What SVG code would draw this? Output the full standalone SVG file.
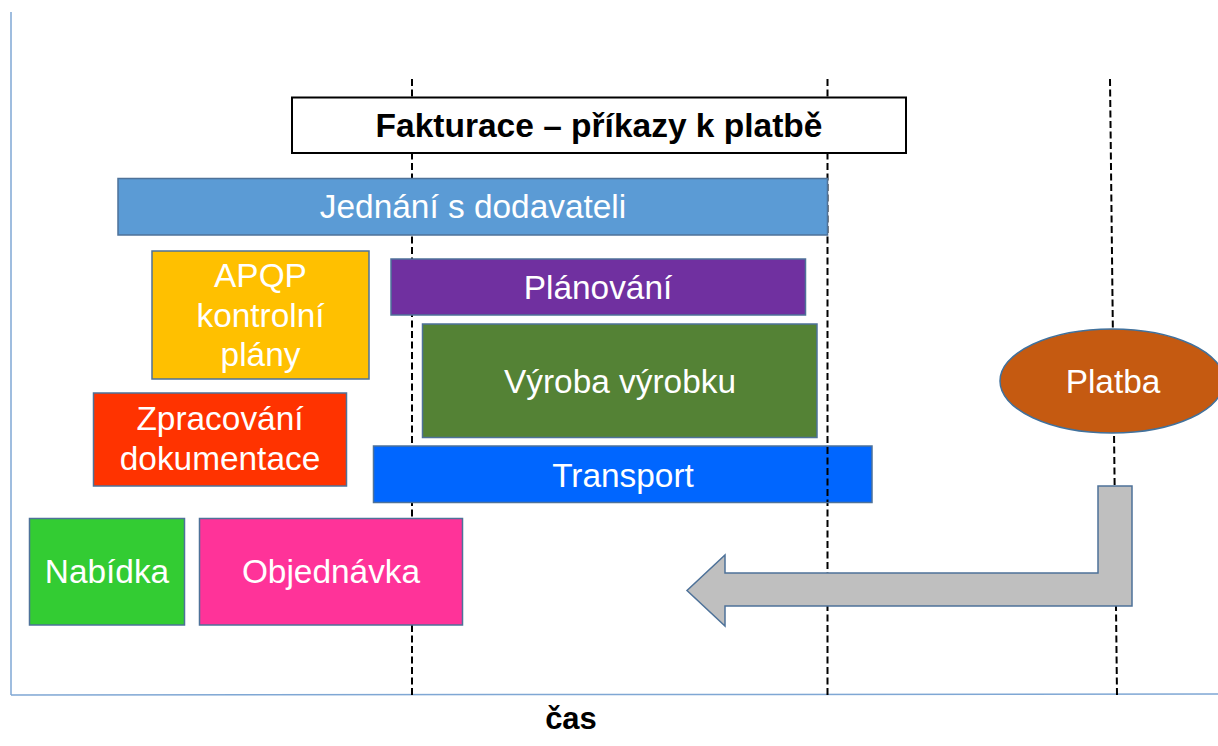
<svg xmlns="http://www.w3.org/2000/svg" width="1218" height="746" viewBox="0 0 1218 746">
  <style>
    .box { stroke: #4E7299; stroke-width: 1.5; }
    .lbl { font-family: "Liberation Sans", Arial, sans-serif; font-size: 33.4px; fill: #FFFFFF; text-anchor: middle; }
    .bold { font-family: "Liberation Sans", Arial, sans-serif; font-weight: bold; fill: #000000; text-anchor: middle; }
    .guide { stroke: #000000; stroke-width: 2; stroke-dasharray: 7 3.5; fill: none; }
    .axis { stroke: #7FA7D4; stroke-width: 1.5; fill: none; }
  </style>

  <rect x="0" y="0" width="1218" height="746" fill="#FFFFFF"/>

  <!-- axes -->
  <g id="axes">
    <line class="axis" x1="11" y1="12" x2="11" y2="695"/>
    <line class="axis" x1="11" y1="695" x2="1218" y2="694"/>
  </g>

  <!-- time markers (dashed) -->
  <g id="connectors">
    <line class="guide" x1="412" y1="79" x2="412" y2="695"/>
    <line class="guide" x1="827.5" y1="79" x2="827.5" y2="695"/>
    <line class="guide" x1="1110" y1="79" x2="1117" y2="695"/>
  </g>

  <g id="fakturace">
    <rect x="292" y="97.5" width="614" height="55.5" fill="#FFFFFF" stroke="#000000" stroke-width="2"/>
    <text class="bold" x="599" y="137" font-size="33.5">Fakturace – příkazy k platbě</text>
  </g>

  <g id="jednani">
    <rect class="box" x="118" y="178.5" width="709.5" height="56.5" fill="#5B9BD5"/>
    <text class="lbl" x="473" y="218">Jednání s dodavateli</text>
  </g>

  <g id="apqp">
    <rect class="box" x="152" y="251" width="217" height="128" fill="#FFC000"/>
    <text class="lbl" x="260.5" y="287">APQP</text>
    <text class="lbl" x="260.5" y="327">kontrolní</text>
    <text class="lbl" x="260.5" y="366">plány</text>
  </g>

  <g id="planovani">
    <rect class="box" x="391" y="259" width="414.5" height="56" fill="#7030A0"/>
    <text class="lbl" x="598" y="299">Plánování</text>
  </g>

  <g id="vyroba">
    <rect class="box" x="422.5" y="324" width="394.5" height="113.5" fill="#548235"/>
    <text class="lbl" x="620" y="393">Výroba výrobku</text>
  </g>

  <g id="zpracovani">
    <rect class="box" x="93.5" y="393" width="253" height="93" fill="#FF3300"/>
    <text class="lbl" x="220" y="430">Zpracování</text>
    <text class="lbl" x="220" y="470">dokumentace</text>
  </g>

  <g id="transport">
    <rect class="box" x="373.5" y="446" width="498.5" height="56.5" fill="#0066FF"/>
    <text class="lbl" x="623" y="487">Transport</text>
    <line class="guide" x1="827.5" y1="447" x2="827.5" y2="502"/>
  </g>

  <g id="nabidka">
    <rect class="box" x="29.5" y="518.5" width="155" height="106.5" fill="#33CC33"/>
    <text class="lbl" x="107" y="583">Nabídka</text>
  </g>

  <g id="objednavka">
    <rect class="box" x="199.5" y="518.5" width="263" height="106.5" fill="#FF3399"/>
    <text class="lbl" x="331" y="583">Objednávka</text>
  </g>

  <g id="platba">
    <ellipse cx="1112" cy="381" rx="112" ry="52" fill="#C55A11" stroke="#41719C" stroke-width="1.5"/>
    <text class="lbl" x="1113" y="393">Platba</text>
  </g>

  <!-- return arrow from payment back towards the timeline -->
  <g id="navrat">
    <polygon points="1098,486 1132,486 1132,606 725,606 725,626 687,590.5 725,555 725,573 1098,573"
             fill="#BFBFBF" stroke="#4E7299" stroke-width="1.5" stroke-linejoin="miter"/>
  </g>

  <g id="cas">
    <text class="bold" x="571" y="729" font-size="31">čas</text>
  </g>
</svg>
